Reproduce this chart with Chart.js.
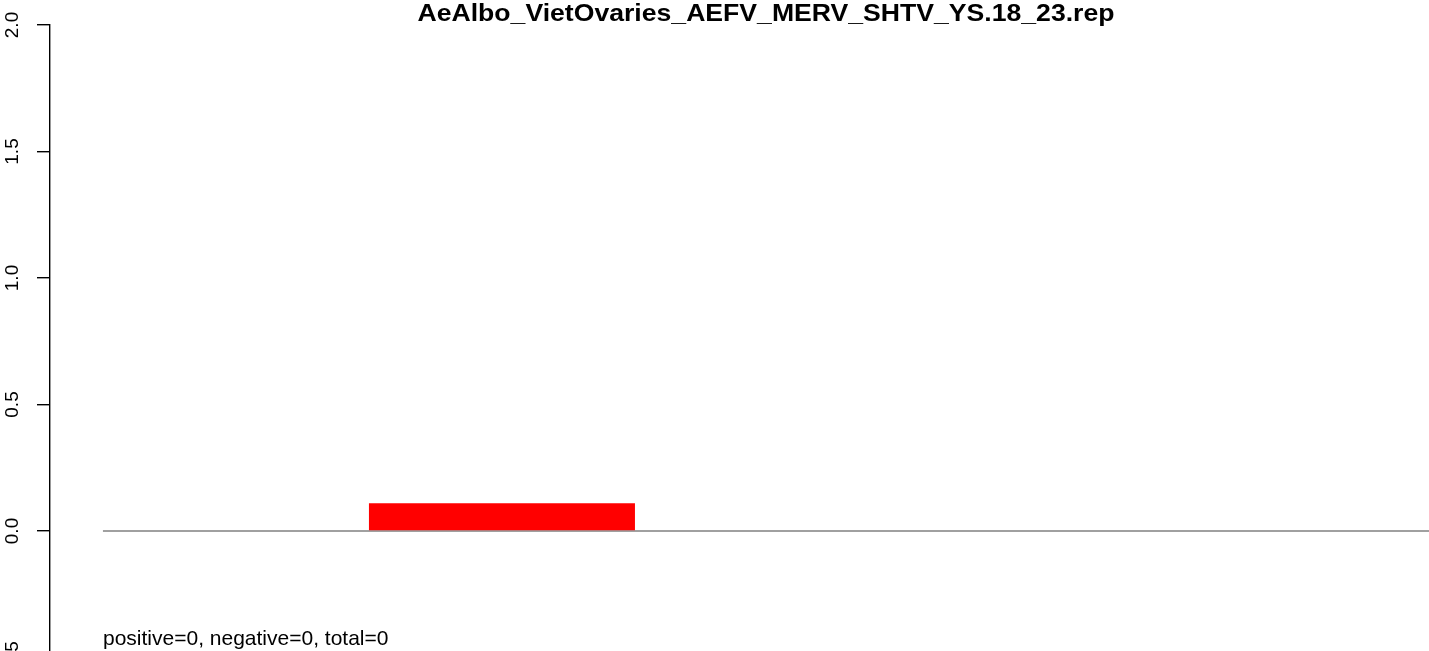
<!DOCTYPE html>
<html>
<head>
<meta charset="utf-8">
<script src="https://cdn.jsdelivr.net/npm/chart.js@4"></script>
<style>
  html, body { margin: 0; padding: 0; background: #fff; overflow: hidden; }
  canvas { display: block; }
</style>
</head>
<body>
<canvas id="repChart" width="1429" height="660"></canvas>
<script>
// values
const titleText = 'AeAlbo_VietOvaries_AEFV_MERV_SHTV_YS.18_23.rep';
const footerText = 'positive=0, negative=0, total=0';
const categories = ['1', '2', '3', '4', '5'];
const barValues = [0, 0.11, 0, 0, 0];
const yTicks = [-0.5, 0, 0.5, 1, 1.5, 2];
const yTickLabels = ['-0.5', '0.0', '0.5', '1.0', '1.5', '2.0'];
const baseline = [0, 0];

const FONT = "'Liberation Sans', Arial, Helvetica, sans-serif";

const barPoints = categories.map((c, i) => ({ x: i + 0.5, y: barValues[i] }));
const basePoints = [{ x: 0, y: baseline[0] }, { x: categories.length, y: baseline[1] }];
// category edges, used as (hidden) x ticks so bars span one full unit
const xEdges = categories.map((c, i) => i).concat([categories.length]);

const textPlugin = {
    id: 'rText',
    afterDraw(chart) {
        const ctx = chart.ctx;
        const y = chart.scales.y;
        ctx.save();
        ctx.fillStyle = '#000';

        // title, stretched a little to the width of the original
        ctx.font = 'bold 24px ' + FONT;
        ctx.textAlign = 'center';
        ctx.textBaseline = 'alphabetic';
        const w = ctx.measureText(titleText).width;
        ctx.save();
        ctx.translate(766, 21);
        ctx.scale(697 / w, 1);
        ctx.fillText(titleText, 0, 0);
        ctx.restore();

        // footer
        ctx.font = '21px ' + FONT;
        ctx.textAlign = 'left';
        ctx.fillText(footerText, 103, 645);

        // rotated y tick labels
        ctx.font = '19px ' + FONT;
        y.ticks.forEach((t, i) => {
            const py = y.getPixelForValue(t.value);
            ctx.save();
            ctx.translate(18, py);
            ctx.rotate(-Math.PI / 2);
            ctx.textAlign = 'center';
            ctx.textBaseline = 'alphabetic';
            ctx.fillText(yTickLabels[i], 0, 0);
            ctx.restore();
        });
        ctx.restore();
    }
};

new Chart(document.getElementById('repChart').getContext('2d'), {
    type: 'bar',
    data: {
        datasets: [
            {
                type: 'bar',
                data: barPoints,
                backgroundColor: '#ff0000',
                borderWidth: 0,
                inflateAmount: 0,
                barPercentage: 1,
                categoryPercentage: 1
            },
            {
                type: 'line',
                data: basePoints,
                borderColor: '#808080',
                borderWidth: 1.6,
                pointRadius: 0,
                fill: false
            }
        ]
    },
    options: {
        responsive: false,
        animation: false,
        devicePixelRatio: 1,
        layout: { padding: { top: 25, bottom: 2.5, left: 0, right: 0 } },
        plugins: { legend: { display: false }, tooltip: { enabled: false }, title: { display: false } },
        scales: {
            x: {
                type: 'linear',
                offset: false,
                min: -0.199,
                max: 4.985,
                afterBuildTicks: s => { s.ticks = xEdges.map(v => ({ value: v })); },
                display: false
            },
            y: {
                min: -0.5,
                max: 2,
                afterBuildTicks: s => { s.ticks = yTicks.map(v => ({ value: v })); },
                afterFit: s => { s.width = 50; },
                grid: { drawOnChartArea: false, drawTicks: true, tickLength: 13, color: '#000', lineWidth: 1.4 },
                border: { display: true, color: '#000', width: 1.4 },
                ticks: { display: false }
            }
        }
    },
    plugins: [textPlugin]
});
</script>
</body>
</html>
